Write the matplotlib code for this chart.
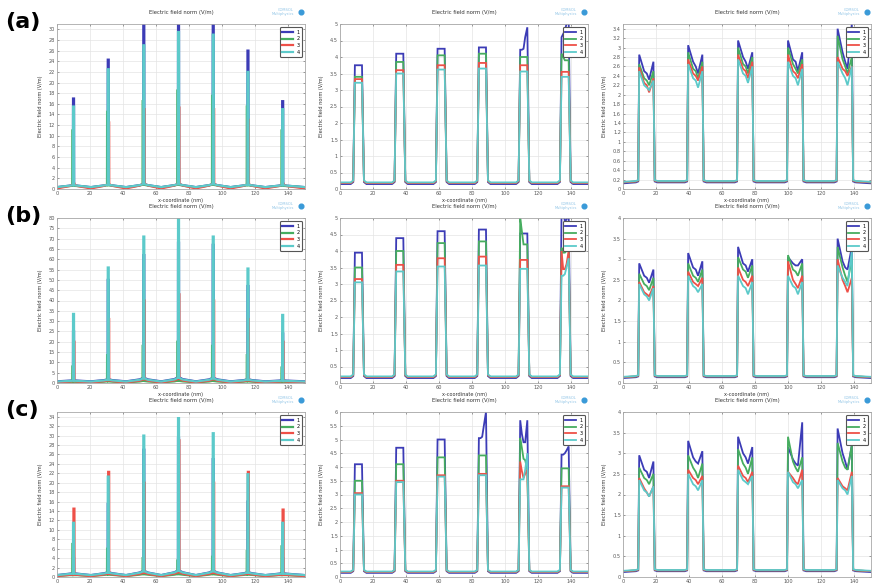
import matplotlib
matplotlib.use('Agg')
import matplotlib.pyplot as plt
from matplotlib.ticker import MultipleLocator, FormatStrFormatter

colors = ['#3c3cb6', '#46ad5f', '#ee5048', '#5ccaca']
names = ['1', '2', '3', '4']

# ---- column 1: narrow spikes ------------------------------------------
spike_x = [10, 31, 52.5, 73.5, 94.5, 115.5, 136.5]
spike_peak = {
    'a': [[17.0, 24.3, 31.0, 31.0, 30.8, 26.0, 16.5],
          [11.0, 14.5, 16.5, 18.5, 17.5, 15.5, 11.0],
          [1.0, 12.5, 15.0, 15.3, 15.0, 13.0, 1.0],
          [15.5, 22.5, 27.0, 29.5, 29.0, 22.0, 15.0]],
    'b': [[25.0, 50.0, 62.0, 68.0, 67.0, 47.0, 24.0],
          [8.0, 13.5, 18.0, 20.0, 18.0, 13.5, 7.5],
          [20.0, 31.0, 40.0, 43.0, 40.0, 31.0, 20.0],
          [33.5, 56.0, 71.0, 80.0, 71.0, 55.5, 33.0]],
    'c': [[4.0, 15.5, 27.0, 29.5, 25.0, 16.0, 4.0],
          [7.0, 6.0, 4.0, 3.5, 4.3, 5.5, 6.5],
          [14.5, 22.3, 20.0, 29.0, 20.0, 22.3, 14.3],
          [11.5, 21.3, 30.0, 33.7, 30.5, 21.8, 11.5]],
}
spike_foot = {
    'a': [[0.7, 0.8, 0.9, 0.9, 0.9, 0.8, 0.7],
          [0.6, 0.7, 0.8, 0.8, 0.8, 0.7, 0.6],
          [0.8, 0.9, 1.0, 1.0, 1.0, 0.9, 0.8],
          [0.7, 0.8, 0.9, 0.9, 0.9, 0.8, 0.7]],
    'b': [[1.3, 1.8, 2.5, 2.8, 2.5, 1.8, 1.3],
          [0.6, 0.8, 1.0, 1.1, 1.0, 0.8, 0.6],
          [0.9, 1.3, 1.8, 2.0, 1.8, 1.3, 0.9],
          [1.1, 1.6, 2.2, 2.5, 2.2, 1.6, 1.1]],
    'c': [[0.8, 1.0, 1.3, 1.4, 1.3, 1.0, 0.8],
          [0.4, 0.5, 0.6, 0.6, 0.6, 0.5, 0.4],
          [0.5, 0.7, 0.9, 1.0, 0.9, 0.7, 0.5],
          [0.7, 0.9, 1.2, 1.3, 1.2, 0.9, 0.7]],
}
spike_mid = {'a': [0.35, 0.3, 0.1, 0.35],
             'b': [0.8, 0.3, 0.3, 0.7],
             'c': [0.4, 0.2, 0.2, 0.4]}
spike_ylim = {'a': (0, 31, 2), 'b': (0, 80, 5), 'c': (0, 35, 2)}

# ---- column 2: narrow flat bumps --------------------------------------
bump_x = [9, 34, 59, 84, 109, 134]
bump_top = {
    'a': [[3.75, 4.1, 4.25, 4.29, [4.22, 4.22, 4.25, 4.6, 4.9], [4.6, 4.7, 4.8, 5.0, 5.2]],
          [3.4, 3.85, 4.05, 4.1, 4.0, [4.1, 4.0, 3.9, 3.9, 3.9]],
          [3.33, 3.6, 3.75, 3.82, 3.75, 3.55],
          [3.22, 3.5, 3.62, 3.65, 3.56, 3.4]],
    'b': [[3.95, 4.39, 4.6, 4.65, 4.53, [5.2, 5.2, 4.9, 4.95, 5.2]],
          [3.5, 4.0, 4.24, 4.29, [5.0, 4.6, 4.2, 4.2, 4.2], [4.1, 3.95, 3.95, 4.0, 4.2]],
          [3.15, 3.58, 3.78, 3.83, 3.73, [4.0, 3.45, 3.45, 3.6, 4.0]],
          [3.05, 3.38, 3.53, 3.56, 3.46, [3.25, 3.25, 3.3, 3.5, 3.78]]],
    'c': [[4.1, 4.7, 5.0, [5.05, 5.05, 5.1, 5.5, 6.0], [5.7, 5.2, 4.9, 4.9, 5.7], [4.45, 4.45, 4.5, 4.6, 4.75]],
          [3.5, 4.1, 4.35, 4.42, [5.05, 4.7, 4.3, 4.25, 3.9], 3.95],
          [3.05, 3.5, 3.7, 3.75, [4.2, 3.85, 3.6, 3.75, 3.9], 3.3],
          [3.0, 3.45, 3.65, 3.7, [3.55, 3.55, 3.55, 3.9, 4.5], 3.25]],
}
bump_base = [0.15, 0.18, 0.18, 0.2]
bump_ylim = {'a': (0, 5, 0.5), 'b': (0, 5, 0.5), 'c': (0, 6, 0.5)}

# ---- column 3: wide blocks with a dip ---------------------------------
block_x = [9.8, 39.4, 69.6, 99.8, 129.8]
block_top = {
    'a': [[[2.85, 2.5, 2.45, 2.32, 2.7], [3.05, 2.7, 2.6, 2.45, 2.85], [3.15, 2.8, 2.7, 2.55, 2.9],
           [3.15, 2.75, 2.7, 2.5, 2.9], [3.4, 2.9, 2.7, 2.55, 3.5]],
          [[2.65, 2.35, 2.3, 2.2, 2.5], [2.9, 2.55, 2.5, 2.35, 2.7], [3.0, 2.65, 2.6, 2.45, 2.8],
           [3.0, 2.65, 2.55, 2.45, 2.75], [3.25, 2.75, 2.6, 2.45, 2.8]],
          [[2.58, 2.25, 2.2, 2.05, 2.35], [2.75, 2.45, 2.4, 2.3, 2.6], [2.85, 2.55, 2.5, 2.35, 2.7],
           [2.85, 2.5, 2.45, 2.35, 2.65], [2.8, 2.55, 2.5, 2.4, 2.6]],
          [[2.5, 2.2, 2.15, 2.1, 2.3], [2.65, 2.35, 2.3, 2.15, 2.5], [2.75, 2.45, 2.4, 2.25, 2.6],
           [2.7, 2.4, 2.35, 2.2, 2.55], [2.7, 2.45, 2.35, 2.2, 2.6]]],
    'b': [[[2.9, 2.6, 2.55, 2.43, 2.75], [3.15, 2.8, 2.75, 2.6, 2.95], [3.3, 2.9, 2.85, 2.7, 3.0],
           [3.05, 2.9, 2.85, 2.85, 3.0], [3.5, 2.95, 2.8, 2.75, 3.3]],
          [[2.65, 2.4, 2.35, 2.25, 2.55], [2.9, 2.6, 2.55, 2.45, 2.75], [3.05, 2.75, 2.7, 2.55, 2.85],
           [3.1, 2.75, 2.7, 2.6, 2.9], [3.3, 2.8, 2.6, 2.45, 3.0]],
          [[2.45, 2.2, 2.15, 2.1, 2.35], [2.7, 2.45, 2.4, 2.35, 2.55], [2.8, 2.5, 2.45, 2.35, 2.6],
           [2.95, 2.5, 2.4, 2.3, 2.6], [3.0, 2.5, 2.35, 2.2, 2.55]],
          [[2.4, 2.15, 2.1, 2.0, 2.3], [2.6, 2.35, 2.3, 2.2, 2.4], [2.6, 2.35, 2.3, 2.15, 2.45],
           [2.6, 2.35, 2.3, 2.15, 2.45], [2.85, 2.55, 2.45, 2.35, 3.2]]],
    'c': [[[2.95, 2.6, 2.55, 2.4, 2.8], [3.3, 2.9, 2.8, 2.75, 3.05], [3.4, 3.0, 2.9, 2.75, 3.15],
           [3.15, 2.85, 2.75, 2.7, 3.75], [3.6, 3.0, 2.8, 2.6, 3.2]],
          [[2.65, 2.4, 2.35, 2.25, 2.5], [2.95, 2.65, 2.55, 2.4, 2.75], [3.1, 2.75, 2.65, 2.5, 2.9],
           [3.4, 2.8, 2.65, 2.55, 2.9], [3.25, 2.8, 2.65, 2.6, 3.2]],
          [[2.4, 2.15, 2.05, 1.95, 2.2], [2.6, 2.4, 2.35, 2.25, 2.45], [2.7, 2.45, 2.4, 2.3, 2.55],
           [2.55, 2.4, 2.3, 2.25, 2.6], [2.4, 2.2, 2.15, 2.1, 2.55]],
          [[2.35, 2.1, 2.05, 1.95, 2.2], [2.5, 2.25, 2.2, 2.1, 2.35], [2.6, 2.35, 2.3, 2.25, 2.45],
           [2.55, 2.3, 2.25, 2.15, 2.35], [2.35, 2.15, 2.1, 2.0, 2.45]]],
}
block_base = [0.12, 0.14, 0.14, 0.15]
block_ylim = {'a': (0, 3.5, 0.2), 'b': (0, 4, 0.5), 'c': (0, 4, 0.5)}

rows = ['a', 'b', 'c']
X_END = 150
spike_shift = [0.0, -0.4, 0.25, 0.0]


def spike_line(peaks, foot, mid, dx):
    xs, ys = [0], [mid]
    prev = None
    for c, p, f in zip(spike_x, peaks, foot):
        if prev is not None:
            xs.append((prev + c) / 2)
            ys.append(mid)
        xs += [c - 2.5, c + dx - 0.35, c + dx - 0.3, c + dx + 0.3, c + dx + 0.35, c + 2.5]
        ys += [(f + mid) / 2 + 0.1, f, p, p, f, (f + mid) / 2 + 0.1]
        prev = c
    xs.append(X_END)
    ys.append(mid)
    return xs, ys


def bump_line(tops, base):
    xs, ys = [0], [base]
    offs = [0, 1, 2, 3, 4.3]
    for s, t in zip(bump_x, tops):
        t = t if isinstance(t, list) else [t] * 5
        xs += [s - 2.5, s - 1.0] + [s + o for o in offs] + [s + 5.5, s + 7]
        ys += [base, base + 0.06] + t + [base + 0.06, base]
    xs.append(X_END)
    ys.append(base)
    return xs, ys


def block_line(tops, base):
    xs, ys = [0], [base]
    offs = [0, 3, 4.6, 6, 8.6]
    for s, t in zip(block_x, tops):
        xs += [s - 2, s - 0.6] + [s + o for o in offs] + [s + 9.4, s + 11]
        ys += [base + 0.02, base + 0.04] + t + [base + 0.04, base + 0.02]
    xs.append(X_END)
    ys.append(base)
    return xs, ys


fig = plt.figure(figsize=(8.74, 5.84), dpi=100)
W, H = 874, 584
col_left = [57, 340, 623]
row_top = [24, 218, 412]
ax_w, ax_h = 248, 165

for r, key in enumerate(rows):
    for c in range(3):
        ax = fig.add_axes([col_left[c] / W, 1 - (row_top[r] + ax_h) / H, ax_w / W, ax_h / H])
        for k in range(4):
            if c == 0:
                xs, ys = spike_line(spike_peak[key][k], spike_foot[key][k], spike_mid[key][k],
                                    spike_shift[k])
                ylim = spike_ylim[key]
                lw = 1.6
            elif c == 1:
                xs, ys = bump_line(bump_top[key][k], bump_base[k])
                ylim = bump_ylim[key]
                lw = 1.3
            else:
                xs, ys = block_line(block_top[key][k], block_base[k])
                ylim = block_ylim[key]
                lw = 1.3
            ax.plot(xs, ys, color=colors[k], lw=lw, label=names[k], solid_joinstyle='miter')
        ax.set_xlim(0, X_END)
        ax.set_ylim(ylim[0], ylim[1])
        ax.xaxis.set_major_locator(MultipleLocator(20))
        ax.yaxis.set_major_locator(MultipleLocator(ylim[2]))
        ax.yaxis.set_major_formatter(FormatStrFormatter('%g'))
        ax.grid(True, color='#e4e4e4', lw=0.5)
        ax.set_axisbelow(True)
        for sp in ax.spines.values():
            sp.set_color('#a8a8a8')
            sp.set_linewidth(0.6)
        ax.tick_params(labelsize=3.6, colors='#555555', length=1.5, width=0.4,
                       direction='in', top=True, right=True, pad=1.5)
        ax.set_title('Electric field norm (V/m)', fontsize=3.8, color='#333333', pad=7)
        ax.set_ylabel('Electric field norm (V/m)', fontsize=3.6, color='#333333', labelpad=4)
        if r < 2:
            # the bottom row's axis title falls outside the picture in the reference
            ax.set_xlabel('x-coordinate (nm)', fontsize=3.6, color='#333333', labelpad=1.5)
        leg = ax.legend(loc='upper right', fontsize=3.6, handlelength=2.2, handletextpad=0.6,
                        borderpad=0.5, labelspacing=0.35, fancybox=True, framealpha=1,
                        borderaxespad=0.6)
        leg.get_frame().set_edgecolor('#555555')
        leg.get_frame().set_linewidth(0.8)
        # software mark at the top right corner
        ax.text(0.955, 1.075, 'COMSOL\nMultiphysics', transform=ax.transAxes, fontsize=2.6,
                color='#8fc4e6', ha='right', va='center', linespacing=1.0)
        ax.plot([0.985], [1.075], 'o', ms=3.4, color='#3a9ad8', transform=ax.transAxes,
                clip_on=False)
    fig.text(5 / W, 1 - (row_top[r] - 2) / H, '(' + key + ')', fontsize=16, fontweight='bold',
             ha='left', va='center')

fig.savefig('out.png', dpi=100)
